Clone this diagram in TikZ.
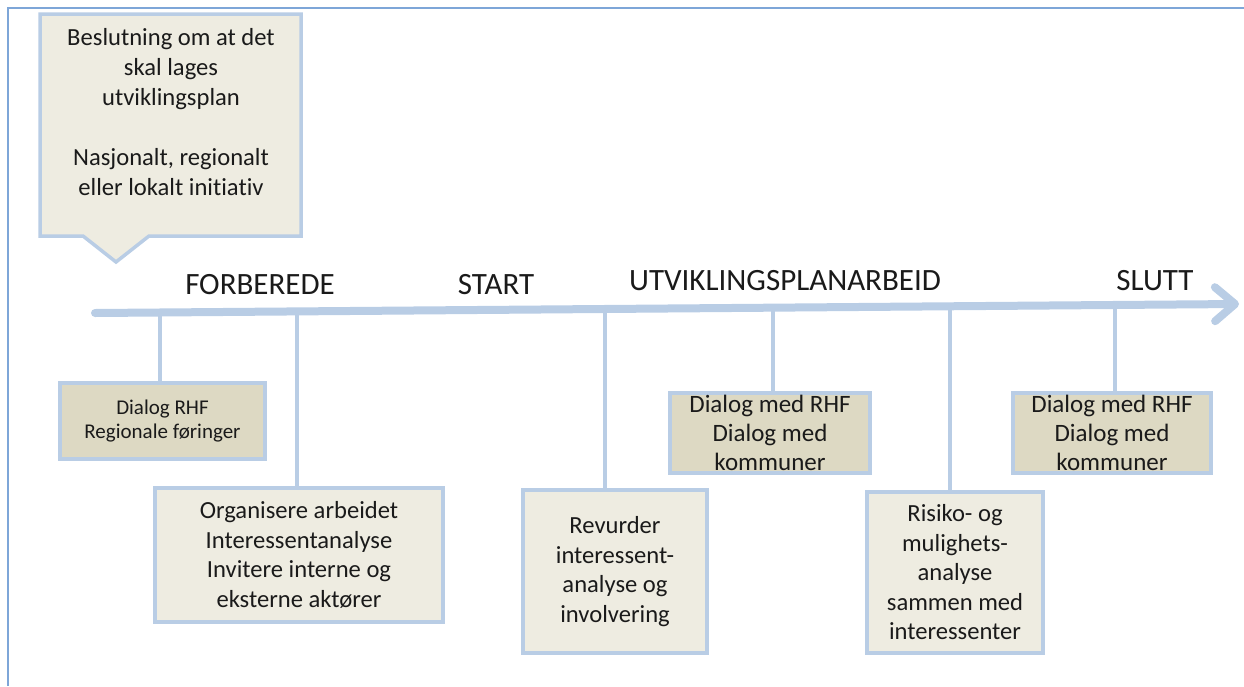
\documentclass[tikz,border=0pt]{standalone}
\usepackage{fontspec}
\setmainfont{Carlito}[Ligatures=NoCommon]
\usetikzlibrary{arrows.meta}
\definecolor{lineblue}{HTML}{B9CDE5}
\definecolor{frameblue}{HTML}{7EA6D8}
\definecolor{lightfill}{HTML}{EEECE1}
\definecolor{darkfill}{HTML}{DDD9C3}
\definecolor{txt}{HTML}{1A1A1A}
\tikzset{
  boxbase/.style={draw=lineblue, line width=3.5pt, inner sep=0pt, align=center, text=txt},
  lightbox/.style={boxbase, fill=lightfill, font=\fontsize{24.6}{29.5}\selectfont},
  darkbox/.style={boxbase, fill=darkfill},
  phase/.style={text=txt, font=\fontsize{31}{36}\selectfont, inner sep=0pt},
  conn/.style={draw=lineblue, line width=3.5pt},
}
\begin{document}
\begin{tikzpicture}[x=1pt,y=-1pt]
\useasboundingbox (0,0) rectangle (1244,686);
% frame
\draw[frameblue, line width=1.2pt] (8,686) -- (8,8) -- (1244,8);
% callout
\draw[draw=lineblue, line width=3.5pt, fill=lightfill, line join=miter]
  (40,14) -- (301,14) -- (301,236) -- (149,236) -- (116,262) -- (83,236) -- (40,236) -- cycle;
\node[text=txt, align=center, font=\fontsize{24.6}{30}\selectfont, inner sep=0pt] (call) at (171,112)
  {Beslutning om at det\\skal lages\\utviklingsplan\\[30pt]Nasjonalt, regionalt\\eller lokalt initiativ};
% main arrow
\coordinate (as) at (95,313);
\coordinate (ae) at (1239,304);
\draw[lineblue, line width=8pt, line cap=round, -{Straight Barb[length=20pt,width=34pt,line cap=round,line join=round]}] (as) -- (ae);
% phase labels
\node[phase] (p1) at (260,285) {FORBEREDE};
\node[phase] (p2) at (496,285) {START};
\node[phase] (p3) at (785,281) {UTVIKLINGSPLANARBEID};
\node[phase] (p4) at (1155,281) {SLUTT};
% boxes
\node[darkbox, minimum width=205pt, minimum height=76pt, font=\fontsize{21}{24.5}\selectfont] (b1) at (162.5,421)
  {Dialog RHF\\Regionale føringer};
\node[lightbox, minimum width=288pt, minimum height=134pt] (b2) at (299,555)
  {Organisere arbeidet\\Interessentanalyse\\Invitere interne og\\eksterne aktører};
\node[lightbox, minimum width=184pt, minimum height=163pt] (b3) at (615,571.5)
  {Revurder\\interessent-\\analyse og\\involvering};
\node[darkbox, minimum width=200pt, minimum height=80pt, font=\fontsize{25}{29}\selectfont] (b4) at (770,433)
  {Dialog med RHF\\Dialog med\\kommuner};
\node[lightbox, minimum width=176pt, minimum height=161pt] (b5) at (955,572.5)
  {Risiko- og\\mulighets-\\analyse\\sammen med\\interessenter};
\node[darkbox, minimum width=198pt, minimum height=80pt, font=\fontsize{25}{29}\selectfont] (b6) at (1112,433)
  {Dialog med RHF\\Dialog med\\kommuner};
% connector anchors on the arrow
\coordinate (t1) at (160,312.5);
\coordinate (t2) at (297,311.5);
\coordinate (t3) at (605,309);
\coordinate (t4) at (773,307.5);
\coordinate (t5) at (950,306);
\coordinate (t6) at (1115,305);
\draw[conn] (t1) -- (t1 |- b1.north);
\draw[conn] (t2) -- (t2 |- b2.north);
\draw[conn] (t3) -- (t3 |- b3.north);
\draw[conn] (t4) -- (t4 |- b4.north);
\draw[conn] (t5) -- (t5 |- b5.north);
\draw[conn] (t6) -- (t6 |- b6.north);
\end{tikzpicture}
\end{document}
